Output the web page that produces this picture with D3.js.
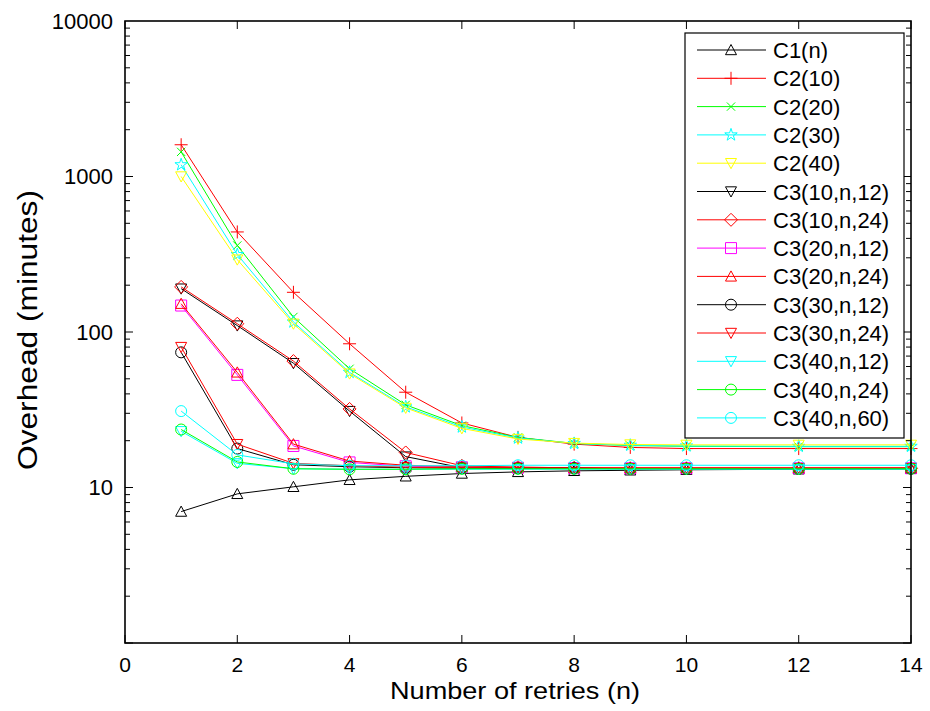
<!DOCTYPE html>
<html>
<head>
<meta charset="utf-8">
<script src="https://cdn.jsdelivr.net/npm/d3@7"></script>
<style>
  html, body { margin: 0; padding: 0; background: #fff; }
  svg { display: block; font-family: "Liberation Sans", Arial, Helvetica, sans-serif; }
</style>
</head>
<body>
<svg id="chart" width="930" height="711"></svg>
<script>
// Number of retries n
const retries = [1, 2, 3, 4, 5, 6, 7, 8, 9, 10, 12, 14];

// Overhead in minutes for each configuration
const c1n     = [7.0, 9.1, 10.1, 11.2, 11.8, 12.3, 12.6, 12.8, 12.9, 13.0, 13.1, 13.2];
const c2_10   = [1600, 440, 180, 84, 41, 26, 21, 19, 18.1, 17.8, 17.8, 17.8];
const c2_20   = [1440, 360, 125, 58, 34, 25, 21, 19.2, 18.6, 18.4, 18.3, 18.3];
const c2_30   = [1190, 315, 116, 55, 33, 24.5, 20.8, 19.2, 18.7, 18.5, 18.4, 18.4];
const c2_40   = [1000, 292, 113, 54, 32.5, 24, 20.5, 19.3, 18.9, 18.8, 18.8, 18.8];
const c3_10_12 = [190, 110, 63, 31, 15.8, 13.4, 13.3, 13.3, 13.2, 13.2, 13.2, 13.2];
const c3_10_24 = [195, 113, 65, 32, 16.8, 13.8, 13.5, 13.4, 13.3, 13.3, 13.3, 13.3];
const c3_20_12 = [148, 53, 18.5, 14.5, 13.7, 13.5, 13.4, 13.3, 13.3, 13.3, 13.3, 13.3];
const c3_20_24 = [152, 55, 19, 14.8, 13.9, 13.6, 13.5, 13.4, 13.4, 13.4, 13.4, 13.4];
const c3_30_12 = [74, 17.8, 14, 13.6, 13.4, 13.3, 13.3, 13.3, 13.2, 13.2, 13.2, 13.2];
const c3_30_24 = [80, 19, 14.3, 13.8, 13.5, 13.4, 13.4, 13.3, 13.3, 13.3, 13.3, 13.3];
const c3_40_12 = [23, 14.3, 13.2, 13.1, 13.1, 13.1, 13.1, 13.1, 13.1, 13.1, 13.1, 13.1];
const c3_40_24 = [23.6, 14.6, 13.2, 13.1, 13.1, 13.2, 13.2, 13.2, 13.2, 13.2, 13.2, 13.2];
const c3_40_60 = [31, 16.2, 14.2, 13.8, 13.8, 13.8, 13.9, 13.9, 13.9, 13.9, 13.9, 13.9];

const seriesNames = ["C1(n)", "C2(10)", "C2(20)", "C2(30)", "C2(40)",
  "C3(10,n,12)", "C3(10,n,24)", "C3(20,n,12)", "C3(20,n,24)",
  "C3(30,n,12)", "C3(30,n,24)", "C3(40,n,12)", "C3(40,n,24)", "C3(40,n,60)"];
const seriesValues = [c1n, c2_10, c2_20, c2_30, c2_40,
  c3_10_12, c3_10_24, c3_20_12, c3_20_24,
  c3_30_12, c3_30_24, c3_40_12, c3_40_24, c3_40_60];

const xTicks = [0, 2, 4, 6, 8, 10, 12, 14];
const yTicks = [10, 100, 1000, 10000];

// Line colour and marker style per series
const styles = [
  { color: "#000000", marker: "triUp" },
  { color: "#ff0000", marker: "plus" },
  { color: "#00ff00", marker: "x" },
  { color: "#00ffff", marker: "star" },
  { color: "#ffff00", marker: "triDown" },
  { color: "#000000", marker: "triDown" },
  { color: "#ff0000", marker: "diamond" },
  { color: "#ff00ff", marker: "square" },
  { color: "#ff0000", marker: "triUp" },
  { color: "#000000", marker: "circle" },
  { color: "#ff0000", marker: "triDown" },
  { color: "#00ffff", marker: "triDown" },
  { color: "#00ff00", marker: "circle" },
  { color: "#00ffff", marker: "circle" }
];

const series = seriesNames.map((name, i) => ({
  name,
  values: retries.map((x, j) => ({ x, y: seriesValues[i][j] })),
  ...styles[i]
}));

const svg = d3.select("#chart");
const plot = { left: 125, right: 911, top: 21, bottom: 643 };

const x = d3.scaleLinear().domain([0, 14]).range([plot.left, plot.right]);
const y = d3.scaleLog().domain([1, 10000]).range([plot.bottom, plot.top]);

// Marker path generators, centred at the origin
const starPath = d3.symbol().type(d3.symbolStar).size(48)();
function markerPath(kind) {
  const r = 5.5;
  switch (kind) {
    case "triUp":   return `M0,${-r}L${r},${r * 0.85}L${-r},${r * 0.85}Z`;
    case "triDown": return `M0,${r}L${r},${-r * 0.85}L${-r},${-r * 0.85}Z`;
    case "plus":    return `M${-r - 1},0H${r + 1}M0,${-r - 1}V${r + 1}`;
    case "x":       return `M${-r * 0.75},${-r * 0.75}L${r * 0.75},${r * 0.75}M${-r * 0.75},${r * 0.75}L${r * 0.75},${-r * 0.75}`;
    case "diamond": return `M0,${-r - 1}L${r + 1},0L0,${r + 1}L${-r - 1},0Z`;
    case "square":  return `M${-r},${-r}H${r}V${r}H${-r}Z`;
    case "circle":  return `M${r},0A${r},${r} 0 1 1 ${-r},0A${r},${r} 0 1 1 ${r},0Z`;
    case "star":    return starPath;
  }
}

// Plot background
svg.append("rect")
  .attr("x", plot.left).attr("y", plot.top)
  .attr("width", plot.right - plot.left).attr("height", plot.bottom - plot.top)
  .attr("fill", "#fff");

// Series lines and markers
const line = d3.line().x(d => x(d.x)).y(d => y(d.y));
const gSeries = svg.append("g");
series.forEach(s => {
  const g = gSeries.append("g");
  g.append("path")
    .attr("d", line(s.values))
    .attr("fill", "none")
    .attr("stroke", s.color)
    .attr("stroke-width", 1);
  g.selectAll("path.m").data(s.values).join("path")
    .attr("class", "m")
    .attr("transform", d => `translate(${x(d.x)},${y(d.y)})`)
    .attr("d", markerPath(s.marker))
    .attr("fill", "none")
    .attr("stroke", s.color)
    .attr("stroke-width", 1);
});

// Axes: ticks on all four sides, pointing inward
const gAxes = svg.append("g").attr("stroke", "#000").attr("stroke-width", 1);
const major = 8, minor = 5;
xTicks.forEach(t => {
  gAxes.append("line").attr("x1", x(t)).attr("x2", x(t))
    .attr("y1", plot.bottom).attr("y2", plot.bottom - major);
  gAxes.append("line").attr("x1", x(t)).attr("x2", x(t))
    .attr("y1", plot.top).attr("y2", plot.top + major);
});
const yAllTicks = [];
for (let e = 0; e < 4; e++) {
  for (let k = 1; k <= 9; k++) yAllTicks.push({ v: k * Math.pow(10, e), major: k === 1 });
}
yAllTicks.forEach(t => {
  const len = t.major ? major : minor;
  gAxes.append("line").attr("x1", plot.left).attr("x2", plot.left + len)
    .attr("y1", y(t.v)).attr("y2", y(t.v));
  gAxes.append("line").attr("x1", plot.right).attr("x2", plot.right - len)
    .attr("y1", y(t.v)).attr("y2", y(t.v));
});
svg.append("rect")
  .attr("x", plot.left).attr("y", plot.top)
  .attr("width", plot.right - plot.left).attr("height", plot.bottom - plot.top)
  .attr("fill", "none").attr("stroke", "#000").attr("stroke-width", 1.6);

// Tick labels
svg.append("g").selectAll("text").data(xTicks).join("text")
  .attr("x", d => x(d)).attr("y", plot.bottom + 29)
  .attr("text-anchor", "middle").attr("font-size", 21)
  .text(d => d);
svg.append("g").selectAll("text").data(yTicks).join("text")
  .attr("x", plot.left - 12).attr("y", d => y(d) + 7.5)
  .attr("text-anchor", "end").attr("font-size", 22)
  .text(d => d);

// Axis titles
svg.append("text")
  .attr("x", 515).attr("y", 699)
  .attr("text-anchor", "middle").attr("font-size", 24)
  .attr("textLength", 250).attr("lengthAdjust", "spacingAndGlyphs")
  .text("Number of retries (n)");
svg.append("text")
  .attr("transform", `translate(37,330) rotate(-90)`)
  .attr("text-anchor", "middle").attr("font-size", 27)
  .attr("textLength", 280).attr("lengthAdjust", "spacingAndGlyphs")
  .text("Overhead (minutes)");

// Legend
const legend = { left: 685, top: 33, width: 219, height: 405, row0: 50, step: 28.3 };
const gLeg = svg.append("g");
gLeg.append("rect")
  .attr("x", legend.left).attr("y", legend.top)
  .attr("width", legend.width).attr("height", legend.height)
  .attr("fill", "#fff").attr("stroke", "#000").attr("stroke-width", 1.2);
series.forEach((s, i) => {
  const cy = legend.row0 + i * legend.step;
  gLeg.append("line").attr("x1", 697).attr("x2", 766)
    .attr("y1", cy).attr("y2", cy)
    .attr("stroke", s.color).attr("stroke-width", 1);
  gLeg.append("path")
    .attr("transform", `translate(731,${cy})`)
    .attr("d", markerPath(s.marker))
    .attr("fill", "none").attr("stroke", s.color).attr("stroke-width", 1);
  gLeg.append("text")
    .attr("x", 773).attr("y", cy + 8)
    .attr("font-size", 22)
    .text(s.name);
});
</script>
</body>
</html>
